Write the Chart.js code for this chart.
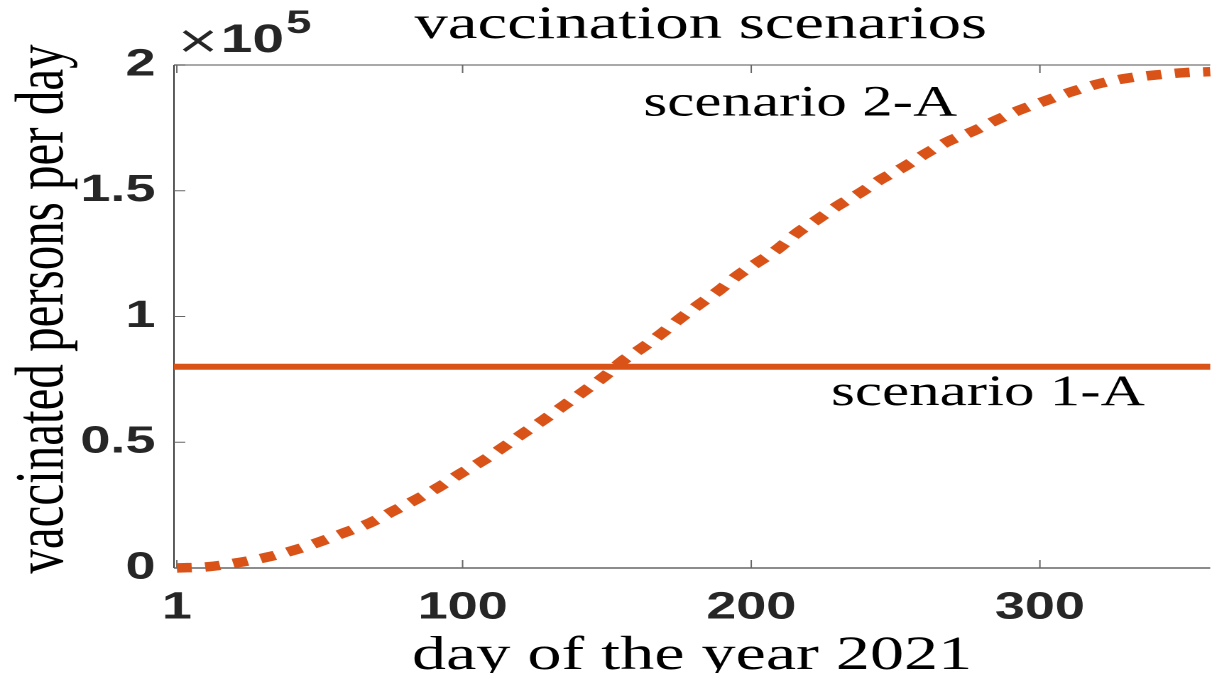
<!DOCTYPE html>
<html>
<head>
<meta charset="utf-8">
<script src="https://cdn.jsdelivr.net/npm/chart.js@4.4.1/dist/chart.umd.min.js"></script>
<style>
  html, body { margin: 0; padding: 0; background: #fff; overflow: hidden; }
  /* the reference is stretched sideways, so the chart is drawn narrow and scaled */
  #wrap { width: 857px; height: 686px; transform: scaleX(1.42); transform-origin: 0 0; }
</style>
</head>
<body>
<div id="wrap"><canvas id="vaccChart"></canvas></div>
<script>
// scenario 2-A: dotted curve
const days2A = [1, 12, 22, 32, 41, 50, 59, 68, 76, 84, 92, 99, 107, 114, 121, 128, 135, 142, 149, 155,
  162, 169, 175, 182, 189, 195, 209, 216, 223, 230, 238, 245, 253, 260, 268, 277, 285, 293, 302, 311,
  321, 330, 340, 350, 359];
const persons2A = [0, 520, 2110, 4250, 6880, 10220, 14040, 18010, 22660, 27320, 32330, 37380, 42660,
  47990, 53560, 58850, 64530, 70260, 76060, 82030, 87360, 93320, 98890, 104850, 110540, 116100,
  126720, 133320, 138650, 144060, 149380, 154550, 159560, 164490, 169500, 173760, 178130, 182110,
  185810, 189380, 192720, 194710, 196020, 196940, 197340];

// scenario 1-A: constant rate
const days1A = [0, 365];
const persons1A = [80000, 80000];

const xTicks = [1, 100, 200, 300];
const yTicks = [0, 50000, 100000, 150000, 200000];
const yTickLabels = ["0", "0.5", "1", "1.5", "2"];

const orange = "#D95319";
const axisDark = "#262626";
const tickFont = { family: "Liberation Sans", weight: "bold", size: 38 };

const boxPlugin = {
  id: "box",
  beforeDatasetsDraw(chart) {
    const { ctx, chartArea: a, scales } = chart;
    ctx.save();
    // top line
    ctx.strokeStyle = "#8c8c8c";
    ctx.lineWidth = 1.5;
    ctx.beginPath();
    ctx.moveTo(a.left, a.top);
    ctx.lineTo(a.right, a.top);
    ctx.stroke();
    // bottom line
    ctx.strokeStyle = "#666";
    ctx.beginPath();
    ctx.moveTo(a.left, a.bottom);
    ctx.lineTo(a.right, a.bottom);
    ctx.stroke();
    // left line
    ctx.strokeStyle = "#333";
    ctx.lineWidth = 1;
    ctx.beginPath();
    ctx.moveTo(a.left, a.top);
    ctx.lineTo(a.left, a.bottom);
    ctx.stroke();
    // inward tick marks
    ctx.strokeStyle = "#666";
    ctx.beginPath();
    xTicks.forEach((d) => {
      const x = scales.x.getPixelForValue(d);
      ctx.moveTo(x, a.bottom);
      ctx.lineTo(x, a.bottom - 8);
      ctx.moveTo(x, a.top);
      ctx.lineTo(x, a.top + 8);
    });
    yTicks.forEach((v) => {
      const y = scales.y.getPixelForValue(v);
      ctx.moveTo(a.left, y);
      ctx.lineTo(a.left + 8, y);
    });
    ctx.stroke();
    ctx.restore();
  },
  afterDraw(chart) {
    const { ctx, chartArea: a, scales } = chart;
    ctx.save();
    // title, centred over the full axes
    ctx.fillStyle = "#000";
    ctx.textAlign = "center";
    ctx.textBaseline = "alphabetic";
    ctx.font = "47px 'Liberation Serif'";
    ctx.fillText("vaccination scenarios", scales.x.getPixelForValue(182.5), 38);

    // series labels
    ctx.font = "43px 'Liberation Serif'";
    ctx.fillText("scenario 2-A", scales.x.getPixelForValue(217), scales.y.getPixelForValue(180000));
    ctx.fillText("scenario 1-A", scales.x.getPixelForValue(282), scales.y.getPixelForValue(64800));

    // y axis label
    ctx.save();
    ctx.translate(31, 309);
    ctx.rotate(-Math.PI / 2);
    ctx.textBaseline = "middle";
    ctx.font = "49px 'Liberation Serif'";
    ctx.fillText("vaccinated persons per day", 0, 0);
    ctx.restore();

    // exponent
    ctx.fillStyle = axisDark;
    ctx.textAlign = "left";
    ctx.font = "38px 'DejaVu Sans'";
    ctx.fillText("×", a.left + 1, 53);
    ctx.font = "bold 40px 'Liberation Sans'";
    ctx.fillText("10", a.left + 33, 52);
    ctx.font = "bold 32px 'Liberation Sans'";
    ctx.fillText("5", a.left + 79, 33);
    ctx.restore();
  }
};

const ctx = document.getElementById("vaccChart").getContext("2d");
new Chart(ctx, {
  type: "line",
  data: {
    datasets: [
      {
        label: "scenario 2-A",
        data: days2A.map((d, i) => ({ x: d, y: persons2A[i] })),
        borderColor: orange,
        borderWidth: 9.5,
        borderDash: [10.5, 9.5],
        borderCapStyle: "butt",
        pointRadius: 0,
        cubicInterpolationMode: "monotone",
        fill: false,
        clip: false,
      },
      {
        label: "scenario 1-A",
        data: days1A.map((d, i) => ({ x: d, y: persons1A[i] })),
        borderColor: orange,
        borderWidth: 6,
        pointRadius: 0,
        fill: false,
      },
    ],
  },
  options: {
    responsive: true,
    maintainAspectRatio: false,
    animation: false,
    devicePixelRatio: 2,
    layout: { padding: { top: 65, left: 0, right: 0, bottom: 0 } },
    plugins: {
      legend: { display: false },
      tooltip: { enabled: false },
      title: { display: false },
    },
    scales: {
      x: {
        type: "linear",
        min: 0,
        max: 359,
        grid: { display: false },
        border: { display: false },
        afterBuildTicks: (s) => { s.ticks = xTicks.map((v) => ({ value: v })); },
        afterFit: (s) => {
          s.height = 118;
          s.paddingLeft = 0;
          s.paddingRight = 0;
        },
        ticks: {
          color: axisDark,
          font: tickFont,
          padding: 9,
          maxRotation: 0,
          autoSkip: false,
        },
        title: {
          display: true,
          text: "day of the year 2021",
          color: "#000",
          font: { family: "Liberation Serif", size: 48 },
          padding: { top: 0, bottom: 1 },
        },
      },
      y: {
        type: "linear",
        min: 0,
        max: 200000,
        grid: { display: false },
        border: { display: false },
        afterBuildTicks: (s) => { s.ticks = yTicks.map((v) => ({ value: v })); },
        afterFit: (s) => { s.width = 122.5; },
        ticks: {
          color: axisDark,
          font: tickFont,
          padding: 5,
          callback: (v) => yTickLabels[yTicks.indexOf(v)],
        },
        title: { display: false },
      },
    },
  },
  plugins: [boxPlugin],
});
</script>
</body>
</html>
